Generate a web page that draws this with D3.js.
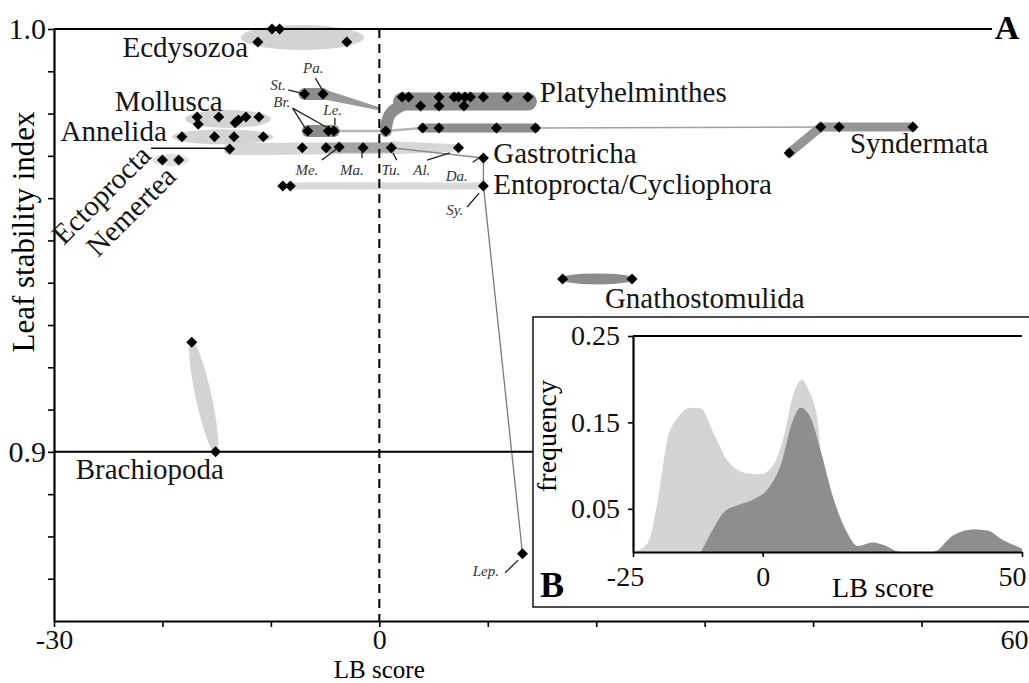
<!DOCTYPE html>
<html>
<head>
<meta charset="utf-8">
<script src="https://cdn.jsdelivr.net/npm/d3@7"></script>
<style>
  body { margin: 0; background: #fff; }
  svg { display: block; font-family: "Liberation Serif", "Times New Roman", serif; }
</style>
</head>
<body>
<script>
// ---- data (LB score, leaf stability index) ----
var ecdysozoa = [[-11.2, 0.9969], [-9.9, 1.0], [-9.2, 1.0], [-3.0, 0.9969]];
var mollusca = [[-16.8, 0.9792], [-16.7, 0.9775], [-14.8, 0.9792], [-13.3, 0.9778], [-13.0, 0.9785], [-12.3, 0.9792], [-11.1, 0.9792]];
var annelida = [[-18.2, 0.9745], [-15.2, 0.9745], [-13.4, 0.9745], [-10.7, 0.9745]];
var ectoprocta = [[-13.8, 0.9716]];
var nemertea = [[-20.0, 0.969], [-18.5, 0.969]];
var platyhelminthes = [[2.1, 0.9839], [2.7, 0.9839], [5.5, 0.9839], [6.9, 0.9839], [7.3, 0.9839], [7.9, 0.9839],
  [8.4, 0.9839], [9.6, 0.9839], [11.8, 0.9839], [13.7, 0.9839], [3.8, 0.9818], [5.5, 0.9818], [7.8, 0.9818]];
var syndLineage = [[0.6, 0.9759], [4.0, 0.9766], [5.5, 0.9766], [10.8, 0.9766], [14.4, 0.9766]];
var syndermata = [[37.8, 0.9707], [40.7, 0.9768], [42.4, 0.9768], [49.2, 0.9768]];
var stPa = [[-6.9, 0.9846], [-5.2, 0.9846]];
var brLe = [[-6.6, 0.9759], [-4.7, 0.9759], [-4.2, 0.9759]];
var meTu = [[-7.1, 0.9719], [-4.9, 0.9719], [-3.7, 0.9721], [-1.5, 0.9719], [1.1, 0.9719], [7.3, 0.9719]];
var gastrotricha = [[9.6, 0.9695]];
var entoprocta = [[-8.9, 0.9629], [-8.2, 0.9629], [9.6, 0.9629]];
var gnathostomulida = [[16.9, 0.9409], [23.3, 0.9409]];
var brachiopoda = [[-17.3, 0.9259], [-15.1, 0.9]];
var lep = [[13.2, 0.8759]];

var groupNames = ["Ecdysozoa", "Mollusca", "Annelida", "Platyhelminthes", "Gastrotricha",
  "Entoprocta/Cycliophora", "Syndermata", "Gnathostomulida", "Brachiopoda"];
var groupLabelAt = [[-12.1, 0.9934], [-24.4, 0.9806], [-29.4, 0.9735], [14.8, 0.9827], [10.5, 0.9683],
  [10.5, 0.961], [43.4, 0.9707], [20.8, 0.934], [-28.0, 0.8936]];
var rotatedNames = ["Ectoprocta", "Nemertea"];
var rotatedAt = [[-20.9, 0.9697], [-18.6, 0.9647]];

var taxonNames = ["Pa.", "St.", "Br.", "Le.", "Me.", "Ma.", "Tu.", "Al.", "Da.", "Sy.", "Lep."];
var taxonAt = [[-6.1, 0.9896], [-9.35, 0.9856], [-8.99, 0.9816], [-4.3, 0.9797], [-6.68, 0.9655], [-2.53, 0.9655],
  [1.06, 0.9655], [3.92, 0.9655], [7.14, 0.9641], [6.96, 0.956], [9.82, 0.8707]];
var leaders = [
  [[-5.9, 0.9884], [-5.25, 0.9856]],
  [[-8.4, 0.9856], [-7.3, 0.9849]],
  [[-8.0, 0.9813], [-6.85, 0.9766]],
  [[-8.0, 0.9813], [-4.74, 0.9766]],
  [[-4.1, 0.979], [-4.1, 0.9773]],
  [[-5.3, 0.969], [-3.8, 0.9719]],
  [[-1.6, 0.9695], [-1.6, 0.9714]],
  [[1.6, 0.969], [1.25, 0.9707]],
  [[4.4, 0.969], [6.5, 0.9707]],
  [[8.6, 0.9685], [9.2, 0.9695]],
  [[8.1, 0.9579], [9.2, 0.9612]],
  [[11.6, 0.8714], [12.8, 0.8744]]
];
var ectoLeader = [[-21.0, 0.9718], [-13.8, 0.9718]];

var xTicks = [-30, -20, -10, 0, 10, 20, 30, 40, 50, 60];
var xLabelled = [-30, 0, 60];
var yTicks = [0.87, 0.88, 0.89, 0.9, 0.91, 0.92, 0.93, 0.94, 0.95, 0.96, 0.97, 0.98, 0.99, 1.0];
var yLabelled = [0.9, 1.0];

// inset B: frequency of LB scores
var freqAll = [[-25, 0], [-24.4, 0.001], [-22.1, 0.011], [-20.2, 0.061], [-18.3, 0.132], [-16.3, 0.156], [-13.8, 0.167],
  [-11.9, 0.166], [-9.4, 0.137], [-6.7, 0.105], [-2.9, 0.091], [-0.4, 0.09], [2.1, 0.101], [4.0, 0.132], [6.0, 0.184],
  [7.5, 0.199], [8.8, 0.188], [10.6, 0.152], [11.2, 0.117], [13.7, 0.061], [16.3, 0.022], [18.3, 0.007], [21.3, 0.011],
  [23.3, 0.008], [26.5, 0], [32.9, 0], [36.7, 0.019], [40.6, 0.026], [43.3, 0.025], [46.3, 0.014], [49.6, 0.005], [50, 0.004]];
var freqSub = [[-11.9, 0], [-9.6, 0.026], [-7.5, 0.046], [-4.8, 0.054], [-1.7, 0.061], [1.0, 0.073], [3.5, 0.101],
  [5.8, 0.152], [7.3, 0.167], [9.2, 0.156], [11.2, 0.117], [13.7, 0.061], [16.3, 0.022], [18.3, 0.007], [21.3, 0.011],
  [23.3, 0.008], [26.5, 0], [32.9, 0], [36.7, 0.019], [40.6, 0.026], [43.3, 0.025], [46.3, 0.014], [49.6, 0.005], [50, 0.004]];
var insetXTicks = [-25, 0, 50];
var insetYTicks = [0.05, 0.15, 0.25];

// ---- setup ----
var light = "#d3d3d3", dark = "#8c8c8c";
var X = d3.scaleLinear().domain([-30, 60]).range([54, 1030]);
var Y = d3.scaleLinear().domain([0.86, 1.0]).range([621, 29]);
var IX = d3.scaleLinear().domain([-25, 50]).range([633, 1022]);
var IY = d3.scaleLinear().domain([0, 0.25]).range([552, 336]);

var svg = d3.select("body").append("svg").attr("width", 1029).attr("height", 683);
svg.append("rect").attr("width", 1029).attr("height", 683).attr("fill", "#fff");

var line = d3.line().x(function(d) { return X(d[0]); }).y(function(d) { return Y(d[1]); });

function band(pts, w, col, curve) {
  var l = curve ? line.curve(curve) : line.curve(d3.curveLinear);
  svg.append("path").attr("d", l(pts)).attr("fill", "none").attr("stroke", col)
    .attr("stroke-width", w).attr("stroke-linecap", "round").attr("stroke-linejoin", "round");
  line.curve(d3.curveLinear);
}

function cloud(pts, padX, ry, dy, col) {
  var xe = d3.extent(pts, function(d) { return X(d[0]); });
  var ye = d3.extent(pts, function(d) { return Y(d[1]); });
  svg.append("ellipse").attr("cx", (xe[0] + xe[1]) / 2).attr("cy", (ye[0] + ye[1]) / 2 + dy)
    .attr("rx", (xe[1] - xe[0]) / 2 + padX).attr("ry", ry).attr("fill", col);
}

function taper(a, b, w0, w1, col) {
  var ax = X(a[0]), ay = Y(a[1]), bx = X(b[0]), by = Y(b[1]);
  var len = Math.hypot(bx - ax, by - ay), nx = -(by - ay) / len, ny = (bx - ax) / len;
  var p = [[ax + nx * w0 / 2, ay + ny * w0 / 2], [bx + nx * w1 / 2, by + ny * w1 / 2],
           [bx - nx * w1 / 2, by - ny * w1 / 2], [ax - nx * w0 / 2, ay - ny * w0 / 2]];
  svg.append("path").attr("d", "M" + p.join("L") + "Z").attr("fill", col)
    .attr("stroke", col).attr("stroke-width", 1).attr("stroke-linejoin", "round");
}

// ---- light clouds ----
cloud(ecdysozoa, 17, 12.5, 2, light);
cloud(mollusca, 12, 9, -1.5, light);
cloud(annelida, 10, 7.5, 0, light);
cloud(nemertea, 10, 6, 0, "#e0e0e0");
band([ectoprocta[0], meTu[4]], 12, "#d6d6d6");
taper(meTu[4], meTu[5], 12, 6, "#d6d6d6");
band([entoprocta[1], entoprocta[2]], 7, "#dadada");

// brachiopoda lens
(function() {
  var a = brachiopoda[0], b = brachiopoda[1];
  var ax = X(a[0]), ay = Y(a[1]), bx = X(b[0]), by = Y(b[1]);
  var ang = Math.atan2(by - ay, bx - ax) * 180 / Math.PI;
  svg.append("ellipse").attr("cx", (ax + bx) / 2).attr("cy", (ay + by) / 2)
    .attr("rx", Math.hypot(bx - ax, by - ay) / 2 + 2).attr("ry", 8)
    .attr("transform", "rotate(" + ang + "," + (ax + bx) / 2 + "," + (ay + by) / 2 + ")")
    .attr("fill", light);
})();

// ---- dark ribbons ----
band([meTu[1], meTu[4]], 10, "#a4a4a4");

var platyY = d3.extent(platyhelminthes, function(d) { return d[1]; });
var platyMid = (platyY[0] + platyY[1]) / 2;
var platyX = d3.extent(platyhelminthes, function(d) { return d[0]; });
var stemBase = syndLineage[0];

taper(stPa[1], [0, stemBase[1] + (platyMid - stemBase[1]) * 0.75], 9, 2, "#9a9a9a");
band(stPa, 12, dark);
band([brLe[2], stemBase], 2.5, "#b5b5b5");
band(brLe, 12, dark);

band([stemBase, [stemBase[0] + 0.2, platyMid - 0.002], [platyX[0] + 1.0, platyMid]], 12, dark, d3.curveBasis);
band([[platyX[0], platyMid], [platyX[1], platyMid]], 18, dark);

band([syndLineage[0], syndLineage[1]], 2.5, "#b5b5b5");
band([syndLineage[syndLineage.length - 1], syndermata[1]], 1.5, "#a0a0a0");
band(syndLineage.slice(1), 9, dark);
band(syndermata, 9, "#959595");

cloud(gnathostomulida, 3, 5.5, 0, dark);

// connectors
band([meTu[4], gastrotricha[0]], 1.5, "#8a8a8a");
band([gastrotricha[0], entoprocta[2], lep[0]], 1.3, "#7a7a7a");

// ---- frame ----
svg.append("line").attr("x1", X(-30)).attr("x2", X(56.5)).attr("y1", Y(1.0)).attr("y2", Y(1.0))
  .attr("stroke", "#000").attr("stroke-width", 2.2);
svg.append("line").attr("x1", X(-30)).attr("x2", 540).attr("y1", Y(0.9)).attr("y2", Y(0.9))
  .attr("stroke", "#000").attr("stroke-width", 2);
svg.append("line").attr("x1", X(0)).attr("x2", X(0)).attr("y1", Y(1.0)).attr("y2", Y(0.86))
  .attr("stroke", "#000").attr("stroke-width", 2).attr("stroke-dasharray", "9,6");

function styleAxis(g, fs) {
  g.select(".domain").attr("stroke-width", 2.2);
  g.selectAll(".tick line").attr("stroke-width", 1.6);
  g.selectAll("text").attr("font-size", fs).attr("font-family", "Liberation Serif, serif").attr("fill", "#111");
}

var yAxis = svg.append("g").attr("transform", "translate(" + X(-30) + ",0)")
  .call(d3.axisLeft(Y).tickValues(yTicks).tickSize(6).tickSizeOuter(0).tickPadding(2)
    .tickFormat(function(d) { return yLabelled.indexOf(d) >= 0 ? d.toFixed(1) : ""; }));
styleAxis(yAxis, 30);

var xAxis = svg.append("g").attr("transform", "translate(0," + Y(0.86) + ")")
  .call(d3.axisBottom(X).tickValues(xTicks).tickSize(6).tickSizeOuter(0).tickPadding(2)
    .tickFormat(function(d) { return xLabelled.indexOf(d) >= 0 ? String(d) : ""; }));
styleAxis(xAxis, 28);
xAxis.selectAll(".tick text").filter(function(d) { return d === 60; })
  .attr("text-anchor", "end").attr("dx", -2);

svg.append("text").attr("x", X(0)).attr("y", 677.5).attr("text-anchor", "middle")
  .attr("font-size", 25).text("LB score");
svg.append("text").attr("transform", "translate(34," + 232 + ") rotate(-90)").attr("text-anchor", "middle")
  .attr("font-size", 31).text("Leaf stability index");
svg.append("text").attr("x", 1007).attr("y", 39).attr("text-anchor", "middle")
  .attr("font-size", 34).attr("font-weight", "bold").text("A");

// ---- points ----
var allPts = [].concat(ecdysozoa, mollusca, annelida, ectoprocta, nemertea, platyhelminthes, syndLineage,
  syndermata, stPa, brLe, meTu, gastrotricha, entoprocta, gnathostomulida, brachiopoda, lep);
svg.append("g").selectAll("path").data(allPts).enter().append("path")
  .attr("d", "M0,-5.5L5.5,0L0,5.5L-5.5,0Z")
  .attr("transform", function(d) { return "translate(" + X(d[0]) + "," + Y(d[1]) + ")"; })
  .attr("fill", "#000");

// ---- labels ----
band(ectoLeader, 1.6, "#111");
svg.append("g").selectAll("path").data(leaders).enter().append("path")
  .attr("d", function(d) { return line(d); }).attr("stroke", "#222").attr("stroke-width", 1.3).attr("fill", "none");

svg.append("g").selectAll("text").data(groupNames).enter().append("text")
  .attr("x", function(d, i) { return X(groupLabelAt[i][0]); })
  .attr("y", function(d, i) { return Y(groupLabelAt[i][1]); })
  .attr("text-anchor", function(d, i) { return i === 0 ? "end" : "start"; })
  .attr("font-size", 29).attr("fill", "#151515").text(function(d) { return d; });

svg.append("g").selectAll("text").data(rotatedNames).enter().append("text")
  .attr("transform", function(d, i) {
    return "translate(" + X(rotatedAt[i][0]) + "," + Y(rotatedAt[i][1]) + ") rotate(-45)";
  })
  .attr("text-anchor", "end").attr("font-size", 29).attr("fill", "#151515").text(function(d) { return d; });

svg.append("g").selectAll("text").data(taxonNames).enter().append("text")
  .attr("x", function(d, i) { return X(taxonAt[i][0]); })
  .attr("y", function(d, i) { return Y(taxonAt[i][1]); })
  .attr("text-anchor", "middle").attr("font-size", 15).attr("font-style", "italic").attr("fill", "#333")
  .text(function(d) { return d; });

// ---- inset B ----
var inset = svg.append("g");
inset.append("rect").attr("x", 533).attr("y", 317).attr("width", 520).attr("height", 290)
  .attr("fill", "#fff").attr("stroke", "#222").attr("stroke-width", 1.6);

var area = d3.area().curve(d3.curveMonotoneX)
  .x(function(d) { return IX(d[0]); }).y0(IY(0)).y1(function(d) { return IY(d[1]); });
inset.append("path").attr("d", area(freqAll)).attr("fill", "#d2d4d6");
inset.append("path").attr("d", area(freqSub)).attr("fill", "#8e8e8e");

inset.append("line").attr("x1", IX(-25)).attr("x2", IX(50)).attr("y1", IY(0.25)).attr("y2", IY(0.25))
  .attr("stroke", "#000").attr("stroke-width", 2.2);

var iy = inset.append("g").attr("transform", "translate(" + IX(-25) + ",0)")
  .call(d3.axisLeft(IY).tickValues(insetYTicks).tickSize(5).tickSizeOuter(0).tickPadding(8)
    .tickFormat(function(d) { return d.toFixed(2); }));
styleAxis(iy, 28);
var ix = inset.append("g").attr("transform", "translate(0," + IY(0) + ")")
  .call(d3.axisBottom(IX).tickValues(insetXTicks).tickSize(5).tickSizeOuter(0).tickPadding(9)
    .tickFormat(function(d) { return String(d); }));
styleAxis(ix, 28);
ix.selectAll(".tick text").attr("dx", function(d) { return d === -25 ? -8 : d === 50 ? -10 : 0; });

inset.append("text").attr("transform", "translate(556,436) rotate(-90)").attr("text-anchor", "middle")
  .attr("font-size", 28).text("frequency");
inset.append("text").attr("x", 883).attr("y", 597).attr("text-anchor", "middle")
  .attr("font-size", 28).text("LB score");
inset.append("text").attr("x", 552).attr("y", 597).attr("text-anchor", "middle")
  .attr("font-size", 36).attr("font-weight", "bold").text("B");
</script>
</body>
</html>
